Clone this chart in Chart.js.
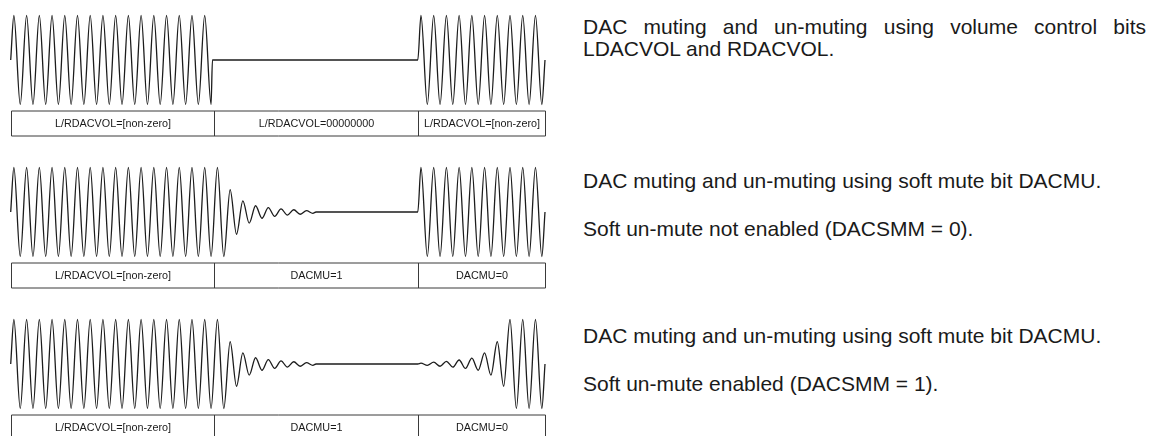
<!DOCTYPE html>
<html>
<head>
<meta charset="utf-8">
<script src="https://cdn.jsdelivr.net/npm/chart.js@4.4.1/dist/chart.umd.min.js"></script>
<style>
  body { margin: 0; width: 1151px; height: 436px; overflow: hidden; background: #fff; position: relative;
         font-family: "Liberation Sans", Arial, sans-serif; }
  .panel { position: absolute; left: 0; width: 560px; height: 152px; }
  .note { position: absolute; left: 583px; width: 563px; margin: 0; font-size: 21px; line-height: 22px; color: #1a1a1a; }
  .just { text-align: justify; }
</style>
</head>
<body>
<div class="panel" style="top:0"><canvas id="volChart" width="560" height="152"></canvas></div>
<div class="panel" style="top:152px"><canvas id="muteChart" width="560" height="152"></canvas></div>
<div class="panel" style="top:304px"><canvas id="softChart" width="560" height="152"></canvas></div>

<p class="note just" style="top:16px">DAC muting and un-muting using volume control bits LDACVOL and RDACVOL.</p>
<p class="note" style="top:170px">DAC muting and un-muting using soft mute bit DACMU.</p>
<p class="note" style="top:218px">Soft un-mute not enabled (DACSMM = 0).</p>
<p class="note" style="top:325px">DAC muting and un-muting using soft mute bit DACMU.</p>
<p class="note" style="top:373px">Soft un-mute enabled (DACSMM = 1).</p>

<script>
// time axis is in carrier cycles, section edges line up with the boxes
const sectionEdges = [0, 16, 32, 42];
const volLabels = ['L/RDACVOL=[non-zero]', 'L/RDACVOL=00000000', 'L/RDACVOL=[non-zero]'];
const muteLabels = ['L/RDACVOL=[non-zero]', 'DACMU=1', 'DACMU=0'];

// crest / trough levels, one per half cycle (full scale = 1)
const volOn = [1,-1, 1,-1, 1,-1, 1,-1, 1,-1, 1,-1, 1,-1, 1,-1,
               1,-1, 1,-1, 1,-1, 1,-1, 1,-1, 1,-1, 1,-1, 1,-1];
const muteDecay = [1,-1, 0.5,-0.5, 0.25,-0.25, 0.14,-0.14, 0.1,-0.1, 0.07,-0.07, 0.05,-0.05, 0.03,-0.03];
const unmuteHard = [1,-1, 1,-1, 1,-1, 1,-1, 1,-1, 1,-1, 1,-1, 1,-1, 1,-1, 1,-1];
const unmuteSoft = [0.02,-0.03, 0.04,-0.05, 0.06,-0.07, 0.09,-0.1, 0.13,-0.14,
                    0.25,-0.25, 0.5,-0.5, 1,-1, 1,-1, 1,-1];

// crests sit a quarter cycle after the start of a run
function crests(start, levels) {
    return levels.map((v, i) => ({ x: start + 0.25 + 0.5 * i, y: v }));
}

let volData = [{x: 0, y: 0}, ...crests(0, volOn), {x: 15.86, y: 0},
               {x: 32, y: 0}, ...crests(32, unmuteHard), {x: 42, y: 0}];
let muteData = [{x: 0, y: 0}, ...crests(0, volOn), ...crests(16, muteDecay), {x: 24, y: 0},
                {x: 32, y: 0}, ...crests(32, unmuteHard), {x: 42, y: 0}];
let softData = [{x: 0, y: 0}, ...crests(0, volOn), ...crests(16, muteDecay), {x: 24, y: 0},
                {x: 32, y: 0}, ...crests(32, unmuteSoft), {x: 42, y: 0}];

// Boxes with the register settings under each trace
function boxPlugin(labels) {
    return {
        id: 'boxes',
        afterDraw(chart) {
            const ctx = chart.ctx;
            const xs = chart.scales.x;
            const top = chart.chartArea.bottom + 6.5;
            const h = 25;
            const edges = sectionEdges.map(t => Math.round(xs.getPixelForValue(t)) + 0.5);
            ctx.save();
            ctx.strokeStyle = '#3a3a3a';
            ctx.lineWidth = 1;
            ctx.beginPath();
            ctx.moveTo(edges[0], top);
            ctx.lineTo(edges[edges.length - 1], top);
            ctx.moveTo(edges[0], top + h);
            ctx.lineTo(edges[edges.length - 1], top + h);
            for (const e of edges) {
                ctx.moveTo(e, top);
                ctx.lineTo(e, top + h);
            }
            ctx.stroke();
            ctx.fillStyle = '#1a1a1a';
            ctx.font = '10.8px "Liberation Sans", Arial, sans-serif';
            ctx.textAlign = 'center';
            ctx.textBaseline = 'middle';
            for (let i = 0; i < labels.length; i++) {
                ctx.fillText(labels[i], (edges[i] + edges[i + 1]) / 2, top + h / 2 + 0.5);
            }
            ctx.restore();
        }
    };
}

function makePanel(id, points, labels) {
    return new Chart(document.getElementById(id), {
        type: 'line',
        data: {
            datasets: [{
                data: points,
                borderColor: '#1c1c1c',
                borderWidth: 1.3,
                pointRadius: 0,
                cubicInterpolationMode: 'monotone',
                fill: false,
                clip: false
            }]
        },
        options: {
            responsive: false,
            animation: false,
            events: [],
            layout: { padding: { left: 10.7, right: 15, top: 15.5, bottom: 47.5 } },
            scales: {
                x: { type: 'linear', min: 0, max: 42, display: false },
                y: { min: -1, max: 1, display: false }
            },
            plugins: { legend: { display: false }, tooltip: { enabled: false } }
        },
        plugins: [boxPlugin(labels)]
    });
}

makePanel('volChart', volData, volLabels);
makePanel('muteChart', muteData, muteLabels);
makePanel('softChart', softData, muteLabels);
</script>
</body>
</html>
